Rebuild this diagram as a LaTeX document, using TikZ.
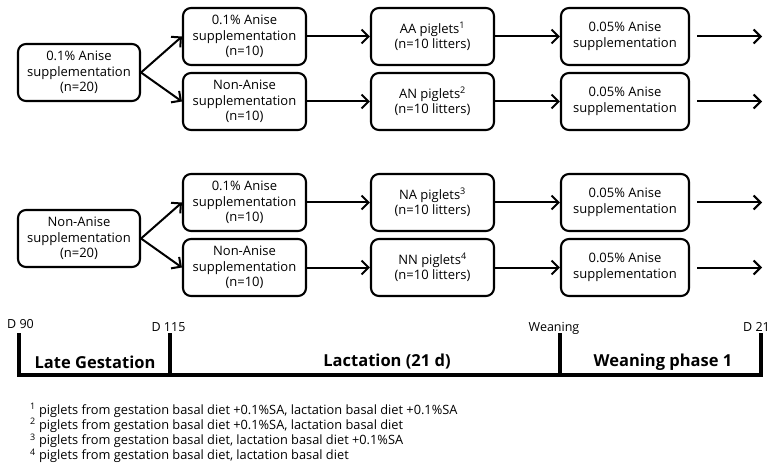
\documentclass[tikz,border=0pt]{standalone}
\usepackage{fontspec}
\setmainfont{Open Sans}
\usetikzlibrary{arrows.meta}

\begin{document}
\begin{tikzpicture}[x=1pt,y=-1pt,
  box/.style={draw,line width=2.1pt,rounded corners=8pt,minimum height=57pt,
    minimum width=123pt,align=center,inner sep=0pt,font=\fontsize{13}{15.7}\selectfont},
  link/.style={line width=2pt,-{Straight Barb[length=7pt,width=14pt,line width=2pt]}},
  phase/.style={font=\fontsize{16.5}{19}\selectfont\bfseries},
  day/.style={anchor=base,font=\fontsize{12.5}{14}\selectfont},
  note/.style={anchor=base west,inner sep=0pt,font=\fontsize{12.8}{15}\selectfont},
  bar/.style={line width=4pt}]
  \useasboundingbox (0,0) rectangle (778,470);
  % ---------------- two sow groups ----------------
  \foreach \dy/\sow/\pa/\pb/\na/\nb in {0/{0.1\% Anise}/AA/AN/1/2,166/Non-Anise/NA/NN/3/4}{
    \node[box,minimum width=122pt] (sow\na) at (79,72.5+\dy) {\sow\\supplementation\\(n=20)};
    \node[box] (lac\na) at (244.5,36.5+\dy) {0.1\% Anise\\supplementation\\(n=10)};
    \node[box] (lac\nb) at (244.5,101.5+\dy) {Non-Anise\\supplementation\\(n=10)};
    \node[box] (pig\na) at (432.5,36.5+\dy) {\pa\ piglets\textsuperscript{\na}\\(n=10 litters)};
    \node[box] (pig\nb) at (432.5,101.5+\dy) {\pb\ piglets\textsuperscript{\nb}\\(n=10 litters)};
    \node[box,minimum width=128pt] (wea\na) at (625,36.5+\dy) {0.05\% Anise\\supplementation};
    \node[box,minimum width=128pt] (wea\nb) at (625,101.5+\dy) {0.05\% Anise\\supplementation};
    \coordinate (end\na) at (762,36.5+\dy);
    \coordinate (end\nb) at (762,101.5+\dy);
    \draw[link] (sow\na.east) -- (lac\na.west);
    \draw[link] (sow\na.east) -- (lac\nb.west);
    \foreach \k in {\na,\nb}{
      \draw[link] (lac\k) -- (pig\k);
      \draw[link] (pig\k) -- (wea\k);
      \draw[link,shorten <=7pt] (wea\k) -- (end\k);
    }
  }
  % ---------------- time line ----------------
  \foreach \x [count=\i from 0] in {18.5,169.5,559.5,760.5}{
    \coordinate (t\i) at (\x,333);
    \coordinate (b\i) at (\x,375);
  }
  \draw[bar] (t0) -- (b0) -- (b3) -- (t3);
  \draw[bar] (t1) -- (b1);
  \draw[bar] (t2) -- (b2);
  \node[day] (d90) at (20.5,328) {D 90};
  \node[day] (d115) at (168.5,331) {D 115};
  \node[day] (dwea) at (554,331) {Weaning};
  \node[day] (d21) at (756.5,331) {D 21};
  \node[phase] (late) at (95,362) {Late Gestation};
  \node[phase] (lact) at (387,362) {Lactation (21 d)};
  \node[phase] (wph) at (663,362) {Weaning phase 1};
  % ---------------- footnotes ----------------
  \foreach \k/\txt [count=\i from 0] in {
    1/{piglets from gestation basal diet +0.1\%SA, lactation basal diet +0.1\%SA},
    2/{piglets from gestation basal diet +0.1\%SA, lactation basal diet},
    3/{piglets from gestation basal diet, lactation basal diet +0.1\%SA},
    4/{piglets from gestation basal diet, lactation basal diet}}{
    \node[note] (fn\k) at (30,414+15.2*\i) {\textsuperscript{\k}\ \txt};
  }
\end{tikzpicture}
\end{document}
